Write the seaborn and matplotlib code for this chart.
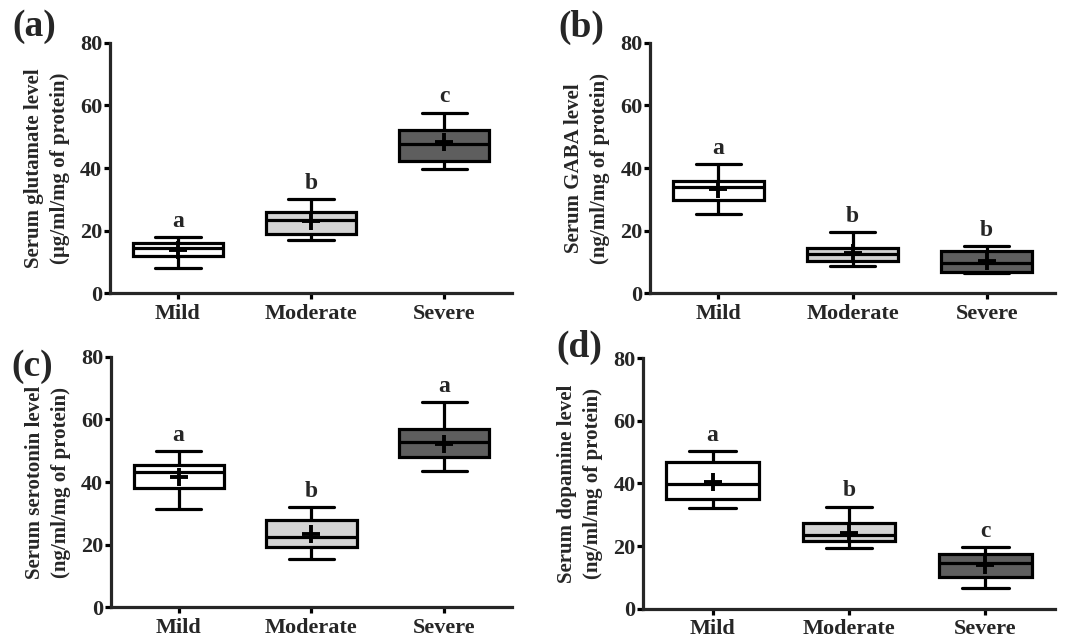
import numpy as np
import pandas as pd
import matplotlib
matplotlib.use("Agg")
import matplotlib.pyplot as plt
import seaborn as sns

groups = ["Mild", "Moderate", "Severe"]
box_colors = ["#ffffff", "#d4d4d4", "#5e5e5e"]

# (a) glutamate
glu_low = [8.0, 17.2, 39.8]
glu_q1 = [12.1, 18.9, 42.3]
glu_med = [14.4, 23.3, 47.7]
glu_q3 = [16.2, 25.9, 52.3]
glu_high = [17.9, 30.1, 57.7]
glu_mean = [14.0, 23.0, 48.2]
glu_letters = ["a", "b", "c"]

# (b) GABA
gaba_low = [25.2, 8.8, 6.4]
gaba_q1 = [29.8, 10.5, 6.9]
gaba_med = [34.0, 12.6, 9.8]
gaba_q3 = [36.0, 14.4, 13.6]
gaba_high = [41.2, 19.5, 15.1]
gaba_mean = [33.4, 12.8, 10.3]
gaba_letters = ["a", "b", "b"]

# (c) serotonin
ser_low = [31.3, 15.6, 43.5]
ser_q1 = [38.2, 19.4, 48.1]
ser_med = [43.1, 22.6, 52.8]
ser_q3 = [45.3, 27.9, 57.1]
ser_high = [50.0, 31.9, 65.5]
ser_mean = [41.7, 23.3, 52.3]
ser_letters = ["a", "b", "a"]

# (d) dopamine
dop_low = [32.1, 19.5, 6.7]
dop_q1 = [35.0, 21.6, 10.0]
dop_med = [39.7, 23.5, 14.5]
dop_q3 = [46.8, 27.5, 17.4]
dop_high = [50.3, 32.6, 19.6]
dop_mean = [40.4, 24.3, 13.8]
dop_letters = ["a", "b", "c"]

panel_tags = ["(a)", "(b)", "(c)", "(d)"]
ylabels = [
    "Serum glutamate level\n(\u00b5g/ml/mg of protein)",
    "Serum GABA level\n(ng/ml/mg of protein)",
    "Serum serotonin level\n(ng/ml/mg of protein)",
    "Serum dopamine level\n(ng/ml/mg of protein)",
]
yticks = [0, 20, 40, 60, 80]

sns.set_style("ticks")
plt.rcParams["font.family"] = ["Liberation Serif", "DejaVu Serif"]
plt.rcParams["font.weight"] = "bold"
plt.rcParams["axes.labelweight"] = "bold"

fig = plt.figure(figsize=(10.73, 6.38), dpi=100)
axes_rects = [
    [0.1025, 0.540, 0.3747, 0.393],
    [0.6058, 0.540, 0.3775, 0.393],
    [0.1034, 0.048, 0.3737, 0.3928],
    [0.5993, 0.046, 0.3840, 0.3925],
]
tag_pos = [(34, 27), (581, 27), (32, 366), (579, 347)]

panels = [
    (glu_low, glu_q1, glu_med, glu_q3, glu_high, glu_mean, glu_letters),
    (gaba_low, gaba_q1, gaba_med, gaba_q3, gaba_high, gaba_mean, gaba_letters),
    (ser_low, ser_q1, ser_med, ser_q3, ser_high, ser_mean, ser_letters),
    (dop_low, dop_q1, dop_med, dop_q3, dop_high, dop_mean, dop_letters),
]

lw = 2.3
for k, (lo, q1, med, q3, hi, mean, letters) in enumerate(panels):
    ax = fig.add_axes(axes_rects[k])
    rows = []
    for i, g in enumerate(groups):
        for v in (lo[i], q1[i], med[i], q3[i], hi[i]):
            rows.append({"group": g, "value": v})
    df = pd.DataFrame(rows)
    sns.boxplot(data=df, x="group", y="value", hue="group", order=groups,
                hue_order=groups, palette=box_colors, whis=(0, 100),
                width=0.68, linewidth=lw, linecolor="black", showfliers=False,
                legend=False, ax=ax)
    sns.pointplot(x=groups, y=mean, order=groups, color="black", marker="+",
                  markersize=13, markeredgewidth=2.8, linestyle="none",
                  errorbar=None, ax=ax)
    for i, g in enumerate(groups):
        ax.text(i, hi[i] + 5, letters[i], ha="center", va="center",
                fontsize=17, fontweight="bold")
    ax.set_ylim(0, 80)
    ax.set_xlim(-0.51, 2.51)
    ax.set_yticks(yticks)
    ax.set_xlabel("")
    ax.set_ylabel(ylabels[k], fontsize=15, fontweight="bold", labelpad=7,
                  linespacing=1.45)
    sns.despine(ax=ax)
    for s in ("left", "bottom"):
        ax.spines[s].set_linewidth(lw)
    ax.tick_params(axis="both", width=lw, length=4, color="black")
    ax.tick_params(axis="y", labelsize=16, pad=1.5)
    ax.tick_params(axis="x", labelsize=16, pad=3.5)
    for t in ax.get_xticklabels() + ax.get_yticklabels():
        t.set_fontweight("bold")
    fig.text(tag_pos[k][0] / 1073, 1 - tag_pos[k][1] / 638, panel_tags[k],
             ha="center", va="center", fontsize=27, fontweight="bold")

fig.savefig("out.png", dpi=100)
